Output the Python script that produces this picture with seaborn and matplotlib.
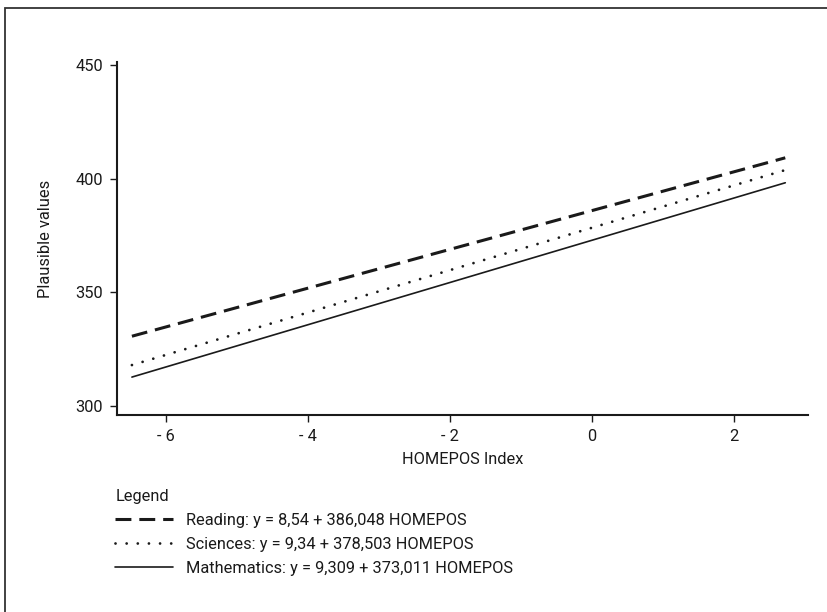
import matplotlib
matplotlib.use("Agg")
import matplotlib.pyplot as plt
from matplotlib.patches import Rectangle
import seaborn as sns
import pandas as pd

# Data (line endpoints)
x_ends = [-6.48, 2.72]
reading = [330.7, 409.3]
sciences = [318.0, 403.9]
mathematics = [312.7, 398.3]
labels = [
    "Reading: y = 8,54 + 386,048 HOMEPOS",
    "Sciences: y = 9,34 + 378,503 HOMEPOS",
    "Mathematics: y = 9,309 + 373,011 HOMEPOS",
]
x_ticks = [-6, -4, -2, 0, 2]
x_tick_labels = ["- 6", "- 4", "- 2", "0", "2"]
y_ticks = [300, 350, 400, 450]

df = pd.DataFrame({
    "x": x_ends * 3,
    "y": reading + sciences + mathematics,
    "series": [labels[0]] * 2 + [labels[1]] * 2 + [labels[2]] * 2,
})

sns.set_theme(style="white")
plt.rcParams["font.family"] = ["Roboto", "DejaVu Sans"]

fig = plt.figure(figsize=(8.28, 6.12), dpi=100)
ax = fig.add_axes([117 / 828, 1 - 415 / 612, (808 - 117) / 828, (415 - 62) / 612])

styles = {labels[0]: (5.2, 2.6), labels[1]: (0.01, 4.0), labels[2]: ""}
widths = {labels[0]: 2.2, labels[1]: 2.0, labels[2]: 1.2}

for lab in labels:
    sub = df[df["series"] == lab]
    sns.lineplot(data=sub, x="x", y="y", ax=ax, color="#1a1a1a",
                 linewidth=widths[lab], label=lab, legend=False)
    line = ax.lines[-1]
    if styles[lab]:
        line.set_dashes(styles[lab])
    if lab == labels[1]:
        line.set_dash_capstyle("round")

fs = 11.8
ax.set_xlim(-6.69, 3.04)
ax.set_ylim(296, 451.5)
ax.set_xticks(x_ticks)
ax.set_xticklabels(x_tick_labels)
ax.set_yticks(y_ticks)
ax.set_xlabel("HOMEPOS Index", fontsize=fs, color="#1a1a1a", labelpad=6)
ax.set_ylabel("Plausible values", fontsize=fs, color="#1a1a1a", labelpad=16)
ax.tick_params(axis="both", which="both", direction="out", length=5, width=1,
               color="#1a1a1a", labelsize=fs, labelcolor="#1a1a1a", pad=5,
               left=True, bottom=True)
for s in ["top", "right"]:
    ax.spines[s].set_visible(False)
for s in ["left", "bottom"]:
    ax.spines[s].set_color("#1a1a1a")
    ax.spines[s].set_linewidth(1.5)

handles = ax.lines[:3]
leg = ax.legend(handles, labels, title="Legend", loc="upper left",
                bbox_to_anchor=(-0.012, -0.19), frameon=False, fontsize=fs,
                title_fontsize=fs, handlelength=3.5, handletextpad=0.8,
                labelspacing=0.55, borderaxespad=0)
leg._legend_box.align = "left"
leg.get_title().set_color("#1a1a1a")
for t in leg.get_texts():
    t.set_color("#1a1a1a")

fig.patches.append(Rectangle((5 / 828, -0.1), 1.2, 1 - 8 / 612 + 0.1,
                             transform=fig.transFigure, fill=False,
                             edgecolor="#333333", linewidth=1.3))

fig.savefig("out.png", dpi=100)
